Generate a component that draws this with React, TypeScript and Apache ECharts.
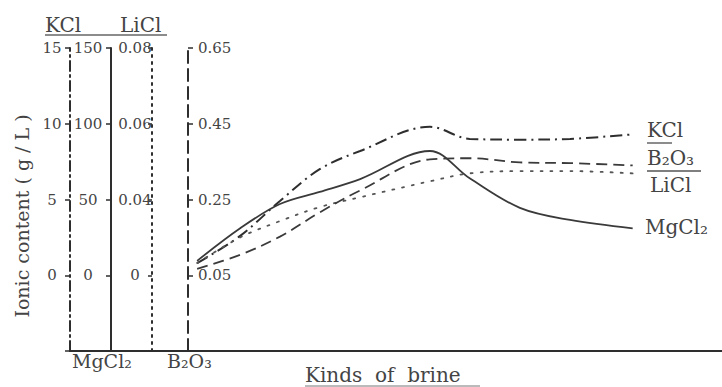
import React, { useEffect, useRef } from "react";
import * as echarts from "echarts";

// Position of each brine sample along the "Kinds of brine" axis (0-100 scale)
const brinePos = [19.5, 26.1, 32.2, 38.3, 44.5, 55.2, 61.3, 69.0, 76.7, 86.3];
// Ionic contents (g/L)
const kclValues = [0.8, 2.6, 4.9, 7.0, 8.2, 9.8, 9.0, 8.95, 9.0, 9.3];
const mgcl2Values = [9.5, 31, 47, 55, 63.5, 82, 64, 44.5, 36.5, 31];
const liclValues = [0.0232, 0.03, 0.0343, 0.038, 0.0406, 0.0448, 0.0469, 0.0475, 0.0475, 0.0469];
const b2o3Values = [0.067, 0.104, 0.152, 0.216, 0.274, 0.356, 0.359, 0.348, 0.346, 0.34];

// axis ranges
const kclAxis = { min: -5, max: 15, interval: 5 };
const mgAxis = { min: -50, max: 150, interval: 50 };
const liAxis = { min: 0, max: 0.08, interval: 0.02 };
// tick labels of the LiCl axis as printed in the original figure (bottom one printed "0")
const liTickLabels: Record<string, string> = { "0.08": "0.08", "0.06": "0.06", "0.04": "0.04", "0.02": "0", "0.00": "" };
const B2O3_BASE = 0.05;
const bAxis = { min: -0.2, max: 0.6, interval: 0.2 }; // shifted by B2O3_BASE

const INK = "#2e2e2e";
const TXT = "#444";
const SERIF = "'DejaVu Serif', 'Liberation Serif', serif";

export default function App() {
  const ref = useRef<HTMLDivElement>(null);
  useEffect(() => {
    if (!ref.current) return;
    const chart = echarts.init(ref.current, null, { renderer: "svg" });
    const pair = (vals: number[], shift = 0) => vals.map((v, i) => [brinePos[i], +(v - shift).toFixed(4)]);
    const labelBase = { fontFamily: SERIF, fontSize: 15, color: TXT, showMinLabel: true, showMaxLabel: true };
    const txt = (text: string, x: number, y: number, size: number) => ({
      type: "text", x, y, style: { text, font: `${size}px ${SERIF}`, fill: TXT, align: "left", verticalAlign: "middle" },
    });
    chart.setOption({
      animation: false,
      grid: { left: 70, right: 0, top: 48, bottom: 36, containLabel: false },
      xAxis: {
        type: "value", min: 0, max: 100,
        axisLine: { show: true, onZero: false, lineStyle: { color: INK, width: 2 } },
        axisTick: { show: false }, axisLabel: { show: false }, splitLine: { show: false },
      },
      yAxis: [
        {
          type: "value", ...kclAxis, position: "left", offset: 0,
          axisLine: { show: true, onZero: false, lineStyle: { color: INK, width: 2, type: [10, 4, 2, 4] } },
          axisTick: { show: true, length: 5, lineStyle: { color: INK, width: 1.5 } },
          axisLabel: { ...labelBase, align: "center", margin: 18, formatter: (v: number) => (v < 0 ? "" : String(v)) },
          splitLine: { show: false },
        },
        {
          type: "value", ...mgAxis, position: "left", offset: -41,
          axisLine: { show: true, onZero: false, lineStyle: { color: INK, width: 2 } },
          axisTick: { show: true, length: 5, lineStyle: { color: INK, width: 1.5 } },
          axisLabel: { ...labelBase, align: "center", margin: 23, formatter: (v: number) => (v < 0 ? "" : String(v)) },
          splitLine: { show: false },
        },
        {
          type: "value", ...liAxis, position: "left", offset: -82,
          axisLine: { show: true, onZero: false, lineStyle: { color: INK, width: 2, type: [2, 5] } },
          axisTick: { show: true, length: 4, lineStyle: { color: INK, width: 1.5 } },
          axisLabel: { ...labelBase, align: "center", margin: 17, formatter: (v: number) => liTickLabels[v.toFixed(2)] ?? "" },
          splitLine: { show: false },
        },
        {
          type: "value", ...bAxis, position: "left", offset: -118,
          axisLine: { show: true, onZero: false, lineStyle: { color: INK, width: 2, type: [12, 6] } },
          axisTick: { show: true, inside: true, length: 5, lineStyle: { color: INK, width: 1.5 } },
          axisLabel: { ...labelBase, inside: true, align: "left", margin: 10, formatter: (v: number) => (v < -1e-9 ? "" : (v + B2O3_BASE).toFixed(2)) },
          splitLine: { show: false },
        },
      ],
      series: [
        {
          name: "KCl", type: "line", yAxisIndex: 0, data: pair(kclValues), smooth: 0.35, showSymbol: false,
          lineStyle: { color: INK, width: 2, type: [12, 5, 2, 5] },
        },
        {
          name: "MgCl₂", type: "line", yAxisIndex: 1, data: pair(mgcl2Values), smooth: 0.35, showSymbol: false,
          lineStyle: { color: "#3a3a3a", width: 1.8 },
        },
        {
          name: "LiCl", type: "line", yAxisIndex: 2, data: pair(liclValues), smooth: 0.35, showSymbol: false,
          lineStyle: { color: "#555", width: 1.8, type: [2, 8], cap: "round" },
        },
        {
          name: "B₂O₃", type: "line", yAxisIndex: 3, data: pair(b2o3Values, B2O3_BASE), smooth: 0.35, showSymbol: false,
          lineStyle: { color: "#3a3a3a", width: 1.8, type: [11, 6] },
        },
      ],
      graphic: [
        txt("KCl", 45, 25, 20),
        txt("LiCl", 120, 25, 20),
        { type: "line", shape: { x1: 45, y1: 35, x2: 167, y2: 35 }, style: { stroke: "#666", lineWidth: 1.5 } },
        { type: "text", x: 22, y: 216, rotation: Math.PI / 2, style: { text: "Ionic content ( g / L )", font: `19px ${SERIF}`, fill: TXT, align: "center", verticalAlign: "middle" } },
        txt("MgCl₂", 72, 361, 19),
        txt("B₂O₃", 167, 361, 19),
        txt("Kinds  of  brine", 305, 375, 20),
        { type: "line", shape: { x1: 305, y1: 386, x2: 480, y2: 386 }, style: { stroke: "#777", lineWidth: 1 } },
        txt("KCl", 647, 130, 20),
        { type: "line", shape: { x1: 647, y1: 143, x2: 672, y2: 143 }, style: { stroke: "#666", lineWidth: 1.5 } },
        txt("B₂O₃", 647, 158, 20),
        { type: "line", shape: { x1: 647, y1: 171, x2: 701, y2: 171 }, style: { stroke: "#555", lineWidth: 1.5 } },
        txt("LiCl", 650, 185, 20),
        txt("MgCl₂", 645, 227, 20),
      ],
    });
    return () => chart.dispose();
  }, []);
  return <div ref={ref} style={{ width: 722, height: 387, position: "absolute", left: 0, top: 0 }} />;
}
